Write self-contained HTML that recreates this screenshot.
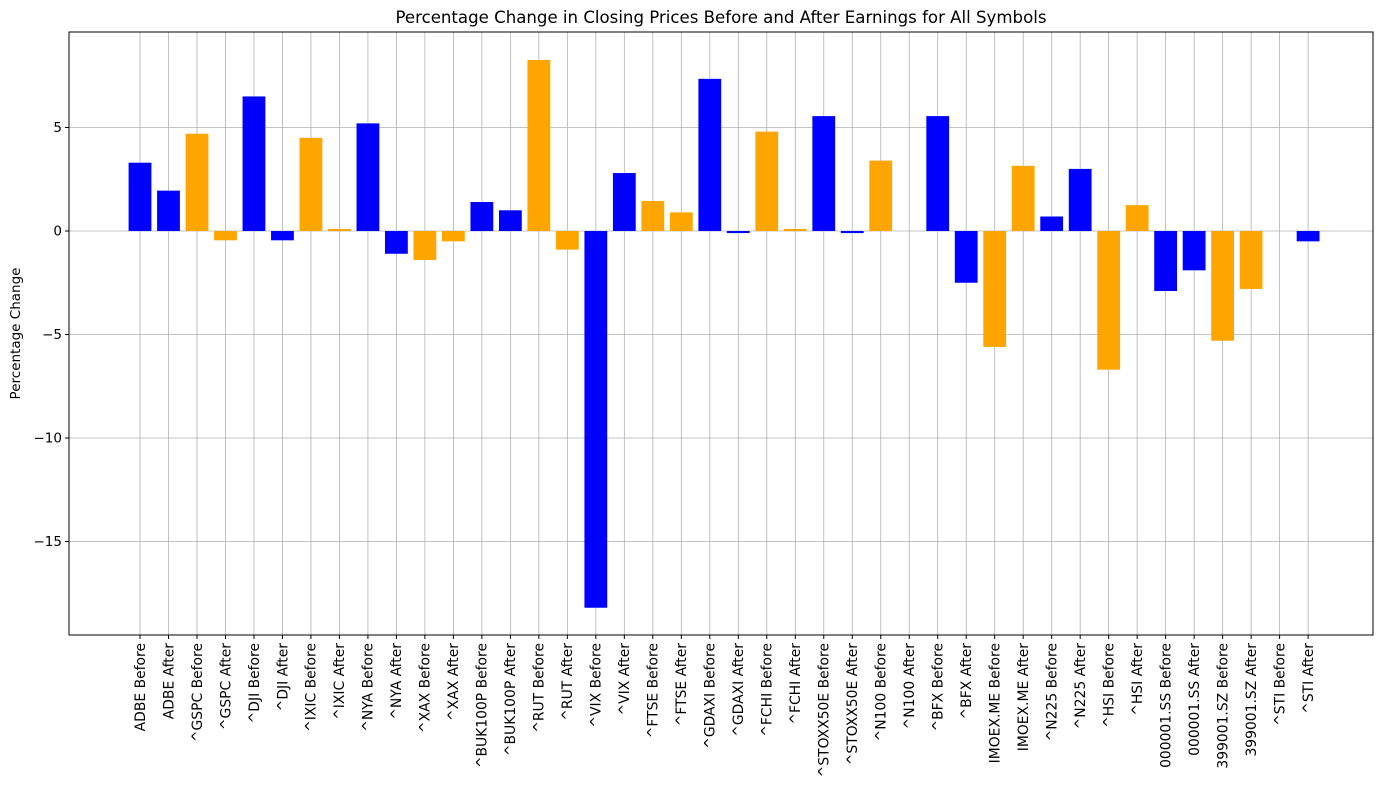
<!DOCTYPE html>
<html><head><meta charset="utf-8"><style>
body{margin:0;background:#fff;font-family:"DejaVu Sans","Liberation Sans",sans-serif;}
</style></head><body>
<svg id="chart" width="1389" height="790" xmlns="http://www.w3.org/2000/svg" font-family="DejaVu Sans, Liberation Sans, sans-serif"></svg>
<script>
const categories=["ADBE Before","ADBE After","^GSPC Before","^GSPC After","^DJI Before","^DJI After","^IXIC Before","^IXIC After","^NYA Before","^NYA After","^XAX Before","^XAX After","^BUK100P Before","^BUK100P After","^RUT Before","^RUT After","^VIX Before","^VIX After","^FTSE Before","^FTSE After","^GDAXI Before","^GDAXI After","^FCHI Before","^FCHI After","^STOXX50E Before","^STOXX50E After","^N100 Before","^N100 After","^BFX Before","^BFX After","IMOEX.ME Before","IMOEX.ME After","^N225 Before","^N225 After","^HSI Before","^HSI After","000001.SS Before","000001.SS After","399001.SZ Before","399001.SZ After","^STI Before","^STI After"];
const values=[3.3,1.95,4.7,-0.45,6.5,-0.45,4.5,0.1,5.2,-1.1,-1.4,-0.5,1.4,1.0,8.26,-0.9,-18.2,2.8,1.45,0.9,7.35,-0.1,4.8,0.1,5.55,-0.1,3.4,0,5.55,-2.5,-5.6,3.15,0.7,3.0,-6.7,1.25,-2.9,-1.9,-5.3,-2.8,0,-0.5];
const yTicks=[-15,-10,-5,0,5];
const seriesColors=["blue","orange"];
const NS="http://www.w3.org/2000/svg";
const svg=document.getElementById('chart');
const L=69,R=1373,T=32,B=635;
function y(v){return 231-v*20.7;}
function x(i){return 140+i*28.49;}
const bw=22.8;
function el(t,a,p){const e=document.createElementNS(NS,t);for(const k in a)e.setAttribute(k,a[k]);(p||svg).appendChild(e);return e;}
yTicks.forEach(v=>{
  const g=el('line',{x1:L,x2:R,y1:y(v),y2:y(v),stroke:'#b0b0b0','stroke-width':0.8});
  
  
  el('line',{x1:L-4,x2:L,y1:y(v),y2:y(v),stroke:'#000'});
  const t=el('text',{x:L-7,y:y(v)+4.5,'text-anchor':'end','font-size':13.5});
  t.textContent=v<0?'\u2212'+(-v):String(v);
  
  
});
categories.forEach((c,i)=>{
  const g=el('line',{x1:x(i),x2:x(i),y1:T,y2:B,stroke:'#b0b0b0','stroke-width':0.8});
  
  
});
categories.forEach((c,i)=>{
  const v=values[i];
  const r=el('rect',{x:x(i)-bw/2,y:Math.min(y(v),y(0)),width:bw,height:Math.abs(y(v)-y(0)),fill:seriesColors[Math.floor(i/2)%2]});
  
  
  el('line',{x1:x(i),x2:x(i),y1:B,y2:B+4,stroke:'#000'});
  const t=el('text',{transform:`translate(${x(i)+4.8},${B+8}) rotate(-90)`,'text-anchor':'end','font-size':13.9});
  t.textContent=c;
  
  
});
const fr=el('rect',{x:L,y:T,width:R-L,height:B-T,fill:'none',stroke:'#000','stroke-width':1});


const ti=el('text',{x:(L+R)/2,y:23,'text-anchor':'middle','font-size':16.6});
ti.textContent='Percentage Change in Closing Prices Before and After Earnings for All Symbols';


const yl=el('text',{transform:`translate(20,${(T+B)/2}) rotate(-90)`,'text-anchor':'middle','font-size':13.5});
yl.textContent='Percentage Change';


</script>
</body></html>
